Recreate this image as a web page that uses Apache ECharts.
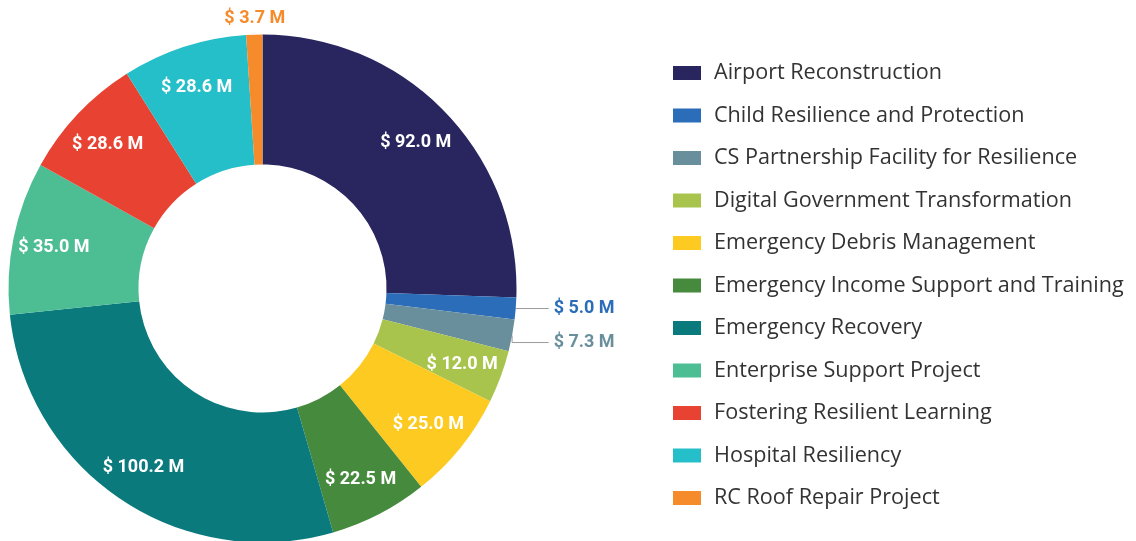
<!DOCTYPE html>
<html>
<head>
<meta charset="utf-8">
<script src="https://cdn.jsdelivr.net/npm/echarts@6/dist/echarts.min.js"></script>
<style>
html,body{margin:0;padding:0;background:#fff;}
#chart{width:1136px;height:541px;}
</style>
</head>
<body>
<div id="chart"></div>
<script>
const categories = [
  'Airport Reconstruction',
  'Child Resilience and Protection',
  'CS Partnership Facility for Resilience',
  'Digital Government Transformation',
  'Emergency Debris Management',
  'Emergency Income Support and Training',
  'Emergency Recovery',
  'Enterprise Support Project',
  'Fostering Resilient Learning',
  'Hospital Resiliency',
  'RC Roof Repair Project'
];
const values = [92.0, 5.0, 7.3, 12.0, 25.0, 22.5, 100.2, 35.0, 28.6, 28.6, 3.7];
const colors = ['#29265f', '#2b6db8', '#6a8f9c', '#a8c44c', '#fdca22', '#468a3d', '#0b7a7d', '#4dbd93', '#e84332', '#25bfc9', '#f58b2b'];
const outsideIdx = [1, 2, 10];

const fmt = v => '$ ' + v.toFixed(1) + ' M';
const FONT = 'Roboto';

const lineLen2 = { 1: 38, 2: 43, 10: 0 };
const mainData = categories.map((c, i) => ({
  name: c,
  value: values[i],
  itemStyle: { color: colors[i] },
  label: outsideIdx.includes(i) ? {
    show: true, position: 'outside', color: colors[i],
    lineHeight: i === 10 ? 20 : 32
  } : { show: false },
  labelLine: outsideIdx.includes(i) ? { show: i !== 10, length: i === 10 ? 16 : 0, length2: lineLen2[i] } : { show: false }
}));

const overlayData = categories.map((c, i) => ({
  name: c,
  value: values[i],
  label: { show: !outsideIdx.includes(i) }
}));

const chart = echarts.init(document.getElementById('chart'));
chart.setOption({
  animation: false,
  color: colors,
  legend: {
    orient: 'vertical',
    left: 673,
    top: 62,
    padding: 0,
    itemWidth: 28,
    itemHeight: 14,
    itemGap: 20.5,
    icon: 'rect',
    selectedMode: false,
    data: categories,
    textStyle: { fontFamily: 'Open Sans', fontSize: 21.6, lineHeight: 22, color: '#333333', padding: [0, 0, 0, 8] }
  },
  series: [
    {
      type: 'pie',
      center: [262.5, 288.5],
      radius: [124, 254],
      startAngle: 90,
      clockwise: true,
      avoidLabelOverlap: true,
      label: {
        formatter: p => fmt(p.value),
        fontFamily: FONT, fontSize: 18, fontWeight: 'bold'
      },
      labelLine: { lineStyle: { color: '#9a9a9a', width: 1 } },
      labelLayout: p => p.dataIndex === 10 ? { align: 'center', dx: 6 } : {},
      emphasis: { disabled: true },
      data: mainData
    },
    {
      type: 'pie',
      center: [262.5, 288.5],
      radius: [166, 254],
      startAngle: 90,
      clockwise: true,
      silent: true,
      itemStyle: { color: 'rgba(0,0,0,0)' },
      label: {
        position: 'inside',
        formatter: p => fmt(p.value),
        color: '#ffffff',
        offset: [0, 2],
        fontFamily: FONT, fontSize: 18, fontWeight: 'bold'
      },
      labelLine: { show: false },
      emphasis: { disabled: true },
      data: overlayData
    }
  ]
});
</script>
</body>
</html>
